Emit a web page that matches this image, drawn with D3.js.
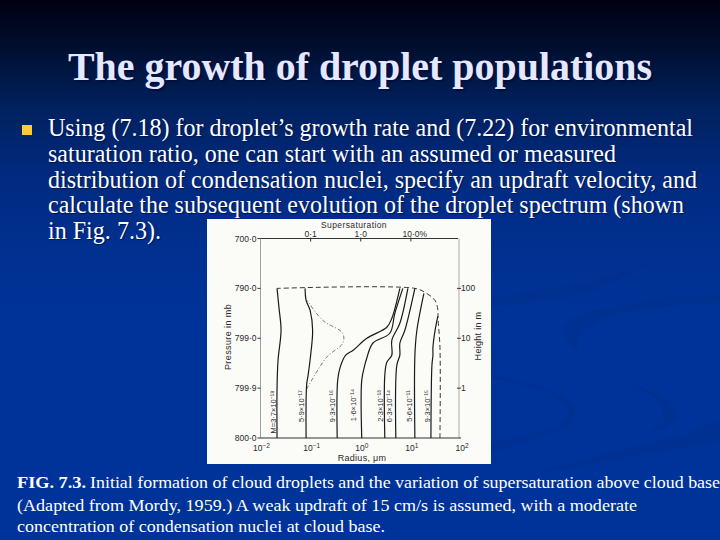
<!DOCTYPE html>
<html>
<head>
<meta charset="utf-8">
<script src="https://cdn.jsdelivr.net/npm/d3@7/dist/d3.min.js"></script>
<style>
html,body{margin:0;padding:0;background:#003399;overflow:hidden}
svg{display:block}
text{font-family:"Liberation Serif","Times New Roman",serif}
.p text{font-family:"Liberation Sans",Arial,sans-serif;fill:#2a2a2a}
</style>
</head>
<body>
<div id="chart"></div>
<script>
// Slide text
const titleText = "The growth of droplet populations";
const bodyLines = [
  "Using (7.18) for droplet\u2019s growth rate and (7.22) for environmental",
  "saturation ratio, one can start with an assumed or measured",
  "distribution of condensation nuclei, specify an updraft velocity, and",
  "calculate the subsequent evolution of the droplet spectrum (shown",
  "in Fig. 7.3)."
];
const captionBold = "FIG. 7.3.";
const captionLines = [
  "Initial formation of cloud droplets and the variation of supersaturation above cloud base",
  "(Adapted from Mordy, 1959.) A weak updraft of 15 cm/s is assumed, with a moderate",
  "concentration of condensation nuclei at cloud base."
];

// Axis ticks (decade exponents) and labels
const radiusExp = [-2, -1, 0, 1, 2];
const superTicks = [[-1, "0\u00b71"], [0, "1\u00b70"], [1, "10\u00b70%"]];
const pressureTicks = [[3, "700\u00b70"], [2, "790\u00b70"], [1, "799\u00b70"], [0, "799\u00b79"], [-1, "800\u00b70"]];
const heightTicks = [[2, "100"], [1, "10"], [0, "1"]];

// Droplet curves as [log10 radius (um), log10 height (m)]
const curveM = [[-1.67,-1],[-1.67,0],[-1.65,0.56],[-1.59,1.16],[-1.63,1.6],[-1.67,2]];
const curveB = [[-1.09,-1],[-1.08,0.06],[-1.05,0.26],[-1.0,0.66],[-0.96,1.16],[-1.01,1.56],[-1.09,1.76],[-1.11,2]];
const curveC = [[-0.47,-1],[-0.46,0.16],[-0.41,0.42],[-0.3,0.66],[-0.15,0.76],[0.12,1.0],[0.52,1.22],[0.62,1.4],[0.78,2]];
const curveD = [[0.02,-1],[0.02,0.16],[0.08,0.46],[0.12,0.6],[0.24,0.9],[0.58,1.1],[0.68,1.5],[0.84,2]];
const curveE = [[0.48,-1],[0.48,0.26],[0.52,0.52],[0.62,0.66],[0.62,0.96],[0.78,1.3],[0.94,2]];
const curveF = [[0.7,-1],[0.72,0.46],[0.78,0.66],[0.78,0.9],[0.88,1.16],[1.08,2]];
const curveG = [[1.08,-1],[1.08,0.66],[1.12,1.16],[1.26,1.9]];
const curveH = [[1.4,-1],[1.42,0.46],[1.44,0.66],[1.44,0.82],[1.52,1.36],[1.54,1.44]];
const supersatEnvelope = [[1.58,-1],[1.58,0.82],[1.54,1.42],[1.54,1.56],[1.48,1.76],[1.28,1.92],[1.08,2],[-1.67,2]];
const supersatPeak = [[-1.08,-0.02],[-0.68,0.62],[-0.36,0.9],[-0.36,1.1],[-0.76,1.36],[-1.07,1.76]];

// Curve labels with log10 radius position of label
const curveLabels = [
  [-1.75, "M=3\u00b77\u00d710\u207b\u00b9\u2078", -0.48], [-1.19, "5\u00b79\u00d710\u207b\u00b9\u2077", -0.36],
  [-0.57, "9\u00b73\u00d710\u207b\u00b9\u2076", -0.36], [-0.15, "1\u00b76\u00d710\u207b\u00b9\u2074", -0.34],
  [0.38, "2\u00b73\u00d710\u207b\u00b9\u00b3", -0.36], [0.56, "6\u00b73\u00d710\u207b\u00b9\u2074", -0.36],
  [0.96, "5\u00b76\u00d710\u207b\u00b9\u00b9", -0.36], [1.32, "9\u00b73\u00d710\u207b\u00b9\u2075", -0.36]
];

const W = 720, H = 540;
const svg = d3.select("#chart").append("svg").attr("width", W).attr("height", H);
const defs = svg.append("defs");
const grad = defs.append("linearGradient").attr("id","bg").attr("x1",0).attr("y1",0).attr("x2",0).attr("y2",1);
[[0,"#000010"],[0.09,"#000f30"],[0.2,"#01215f"],[0.33,"#012a80"],[0.46,"#003090"],[0.6,"#003399"],[1,"#003399"]]
  .forEach(s => grad.append("stop").attr("offset",s[0]).attr("stop-color",s[1]));
svg.append("rect").attr("width",W).attr("height",H).attr("fill","url(#bg)");

// Decorative swooshes
const sw = svg.append("g").attr("fill","#00308f");
[
 "M720,295C680,297 650,299 623,305C600,309 585,312 573,318C566,322 562,328 563,333C565,341 571,347 578,350C577,343 578,337 583,332C592,322 606,316 623,312C655,306 690,304 720,302Z",
 "M560,370C590,373 615,379 640,387C660,394 675,403 677,413C678,422 665,430 647,433C657,427 664,419 663,410C660,399 645,391 623,383C603,377 582,373 560,370Z",
 "M490,375C515,380 538,385 557,393C570,400 576,408 575,417C572,426 562,431 550,433C530,441 510,447 490,453L490,443C515,438 538,433 557,427C565,423 569,418 568,413C565,404 558,398 550,393C532,387 510,381 490,378Z",
 "M720,420C690,433 660,441 623,450C590,458 560,466 537,473C570,469 600,462 630,456C665,450 695,446 720,440Z",
 "M490,296C520,294 560,287 590,283C620,273 650,262 670,255C640,268 610,285 590,292C560,299 520,303 490,307Z"
].forEach(d => sw.append("path").attr("d",d).attr("opacity",0.8));

// Title with shadow
svg.append("text").attr("x",360).attr("y",80).attr("text-anchor","middle")
  .attr("font-size",39).attr("font-weight","bold").attr("fill","#e6e8ff")
  .style("text-shadow","2px 2px 1px #00103f")
  .attr("textLength",584).attr("lengthAdjust","spacingAndGlyphs").text(titleText);

// Bullet
svg.append("rect").attr("x",22).attr("y",125).attr("width",10).attr("height",10).attr("fill","#ffcc33");

// Body text
const bodyWidths = [645, 568, 649, 636, 113];
const bodyY = d3.scalePoint().domain(d3.range(bodyLines.length)).range([136, 239]);
const bodyG = svg.append("g");
bodyLines.forEach((t,i) => {
  bodyG.append("text").attr("x",48).attr("y",bodyY(i)).attr("font-size",25).attr("fill","#ffffff")
    .style("text-shadow","1px 1px 1px #00154d")
    .attr("textLength",bodyWidths[i]).attr("lengthAdjust","spacingAndGlyphs").text(t);
});

// Figure panel
const panel = svg.append("g").attr("class","p");
panel.append("rect").attr("x",207).attr("y",219).attr("width",284).attr("height",245).attr("fill","#fbfbf8");

const x = d3.scaleLinear().domain([-2,2]).range([260.5,461]);
const y = d3.scaleLinear().domain([-1,3]).range([438,238.5]);

// Frame
const frame = panel.append("g").attr("stroke","#333").attr("fill","none");
frame.append("line").attr("x1",x(-2)).attr("x2",458).attr("y1",y(3)).attr("y2",y(3)).attr("stroke-width",1);
frame.append("line").attr("x1",x(-2)).attr("x2",x(-2)).attr("y1",y(3)).attr("y2",y(-1)).attr("stroke-width",0.7).attr("stroke","#777");
frame.append("line").attr("x1",459).attr("x2",459).attr("y1",y(3)).attr("y2",y(-1)).attr("stroke-width",0.7).attr("stroke","#888");
frame.append("line").attr("x1",x(-2)).attr("x2",x(2)).attr("y1",y(-1)).attr("y2",y(-1)).attr("stroke-width",1.2);

// Left pressure axis
pressureTicks.forEach(([v,l]) => {
  panel.append("line").attr("x1",x(-2)-3).attr("x2",x(-2)).attr("y1",y(v)).attr("y2",y(v)).attr("stroke","#333");
  panel.append("text").attr("x",x(-2)-4).attr("y",y(v)+3).attr("text-anchor","end").attr("font-size",8.5).text(l);
});
// Right height axis
heightTicks.forEach(([v,l]) => {
  panel.append("line").attr("x1",457).attr("x2",461).attr("y1",y(v)).attr("y2",y(v)).attr("stroke","#333");
  panel.append("text").attr("x",461).attr("y",y(v)+3).attr("font-size",8.5).text(l);
});
// Top supersaturation axis
superTicks.forEach(([v,l]) => {
  panel.append("line").attr("x1",x(v)).attr("x2",x(v)).attr("y1",y(3)-1).attr("y2",y(3)+3).attr("stroke","#333");
  panel.append("text").attr("x",x(v)+(v===1?4:0)).attr("y",237).attr("text-anchor","middle").attr("font-size",8.5).text(l);
});
panel.append("text").attr("x",354).attr("y",228).attr("text-anchor","middle").attr("font-size",8.5).attr("letter-spacing",0.4).text("Supersaturation");
// Bottom radius axis
radiusExp.forEach(v => {
  const t = panel.append("text").attr("x",x(v)+1).attr("y",451).attr("text-anchor","middle").attr("font-size",8.5).text("10");
  t.append("tspan").attr("font-size",6.5).attr("dy",-3).text(v<0 ? "\u2212"+(-v) : String(v));
});
panel.append("text").attr("x",362).attr("y",461).attr("text-anchor","middle").attr("font-size",9).attr("letter-spacing",0.3).text("Radius, \u03bcm");
panel.append("text").attr("transform","translate(231,337) rotate(-90)").attr("text-anchor","middle").attr("font-size",9).attr("letter-spacing",0.4).text("Pressure in mb");
panel.append("text").attr("transform","translate(481,336) rotate(-90)").attr("text-anchor","middle").attr("font-size",9).attr("letter-spacing",0.3).text("Height in m");

// Curves
const lineFree = d3.line().x(d=>x(d[0])).y(d=>y(d[1])).curve(d3.curveCatmullRom.alpha(0.5));
[curveM,curveB,curveC,curveD,curveE,curveF,curveG,curveH].forEach(c =>
  panel.append("path").attr("d",lineFree(c)).attr("fill","none").attr("stroke","#1a1a1a").attr("stroke-width",1.2));
panel.append("path").attr("d",lineFree(supersatEnvelope)).attr("fill","none").attr("stroke","#222").attr("stroke-width",0.9).attr("stroke-dasharray","5,3");
panel.append("path").attr("d",lineFree(supersatPeak)).attr("fill","none").attr("stroke","#444").attr("stroke-width",0.7).attr("stroke-dasharray","4,2,1,2");

// Curve labels
curveLabels.forEach(([v,l,h]) => {
  panel.append("text").attr("transform",`translate(${x(v)+3},${y(h)}) rotate(-90)`)
    .attr("text-anchor","middle").attr("font-size",7.5).text(l);
});

// Caption
const capG = svg.append("g").attr("fill","#ffffff").attr("font-size",17);
capG.append("text").attr("x",17).attr("y",488).attr("font-weight","bold")
  .attr("textLength",69).attr("lengthAdjust","spacingAndGlyphs").text(captionBold);
capG.append("text").attr("x",90).attr("y",488).attr("textLength",630).attr("lengthAdjust","spacingAndGlyphs").text(captionLines[0]);
capG.append("text").attr("x",17).attr("y",510.5).attr("textLength",620).attr("lengthAdjust","spacingAndGlyphs").text(captionLines[1]);
capG.append("text").attr("x",17).attr("y",531.5).attr("textLength",368).attr("lengthAdjust","spacingAndGlyphs").text(captionLines[2]);
</script>
</body>
</html>
